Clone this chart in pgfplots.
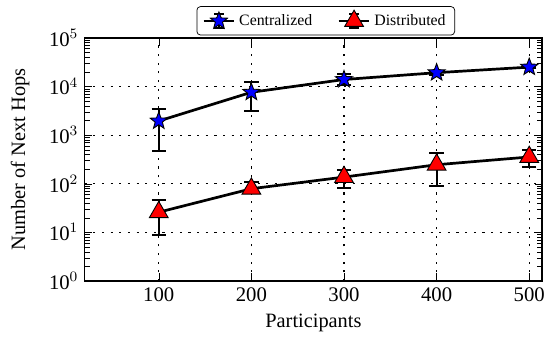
\documentclass[border=0pt]{standalone}
\usepackage{fontspec}
\setmainfont{Liberation Serif}
\usepackage{pgfplots}
\pgfplotsset{compat=1.18}
\usepackage{pgfplotstable}
\pgfdeclareplotmark{fstar}{%
  \pgfpathmoveto{\pgfpointpolar{90}{\pgfplotmarksize}}%
  \pgfpathlineto{\pgfpointpolar{126}{0.42\pgfplotmarksize}}%
  \pgfpathlineto{\pgfpointpolar{162}{\pgfplotmarksize}}%
  \pgfpathlineto{\pgfpointpolar{198}{0.42\pgfplotmarksize}}%
  \pgfpathlineto{\pgfpointpolar{234}{\pgfplotmarksize}}%
  \pgfpathlineto{\pgfpointpolar{270}{0.42\pgfplotmarksize}}%
  \pgfpathlineto{\pgfpointpolar{306}{\pgfplotmarksize}}%
  \pgfpathlineto{\pgfpointpolar{342}{0.42\pgfplotmarksize}}%
  \pgfpathlineto{\pgfpointpolar{18}{\pgfplotmarksize}}%
  \pgfpathlineto{\pgfpointpolar{54}{0.42\pgfplotmarksize}}%
  \pgfpathclose
  \pgfusepathqfillstroke
}
\pgfplotstableread{
x y ep em
100 1950 1550 1470
200 7600 4700 4500
300 13900 3800 3400
400 19200 2000 2000
500 25000 1500 1500
}\central
\pgfplotstableread{
x y ep em
100 26 21 17.3
200 79 29 14
300 137 57 56
400 246 179 155
500 355 145 135
}\distrib
\begin{document}
\begin{tikzpicture}
\begin{axis}[
  name=ax,
  scale only axis,
  width=254pt, height=135pt,
  ymode=log,
  xmin=20, xmax=514,
  ymin=1, ymax=1e5,
  xtick={100,200,300,400,500},
  ytick={1,10,100,1000,10000,100000},
  tick align=inside,
  grid=major,
  major grid style={dash pattern=on 1.2pt off 3.6pt, black, line width=0.6pt},
  axis line style={line width=0.8pt},
  tick style={black},
  xlabel={Participants},
  ylabel={Number of Next Hops},
  ylabel shift=4pt,
  label style={font=\fontsize{11.3}{13}\selectfont},
  tick label style={font=\fontsize{11.5}{13}\selectfont},
  log number format basis/.code 2 args={#1\textsuperscript{\pgfmathprintnumber{#2}}},
  xticklabel style={/pgf/number format/assume math mode=true},
  legend style={at={(0.527,1.01)}, anchor=south, legend columns=2,
    font=\fontsize{8.8}{10}\selectfont, rounded corners=2pt, draw=black,
    /tikz/every even column/.append style={column sep=12pt}},
  legend image code/.code={
    \draw[line width=1.4pt] (0cm,0cm) -- (0.6cm,0cm);
    \draw[line width=1pt,black] (0.3cm,-0.13cm) -- (0.3cm,0.13cm);
    \draw[line width=1pt,black] (0.21cm,0.13cm) -- (0.39cm,0.13cm);
    \draw[line width=1pt,black] (0.21cm,-0.13cm) -- (0.39cm,-0.13cm);
    \draw plot coordinates {(0.3cm,0cm)};
  },
]
\addplot[black, line width=1.5pt, mark=fstar, mark size=5pt,
  mark options={draw=black, fill=blue, line width=0.5pt},
  error bars/.cd, y dir=both, y explicit,
  error bar style={line width=1.1pt, black},
  error mark options={rotate=90, mark size=4pt, line width=1.1pt, black}]
  table[x=x, y=y, y error plus=ep, y error minus=em] {\central};
\addlegendentry{Centralized}
\addplot[black, line width=1.5pt, mark=triangle*, mark size=6pt,
  mark options={draw=black, fill=red, line width=0.5pt},
  error bars/.cd, y dir=both, y explicit,
  error bar style={line width=1.1pt, black},
  error mark options={rotate=90, mark size=4pt, line width=1.1pt, black}]
  table[x=x, y=y, y error plus=ep, y error minus=em] {\distrib};
\addlegendentry{Distributed}
\end{axis}
\pgfresetboundingbox
\path (ax.south west) ++(-47pt,-32pt) coordinate (bl);
\path (ax.north east) ++(1pt,21pt) coordinate (tr);
\path[use as bounding box] (bl) rectangle (tr);
\end{tikzpicture}
\end{document}
